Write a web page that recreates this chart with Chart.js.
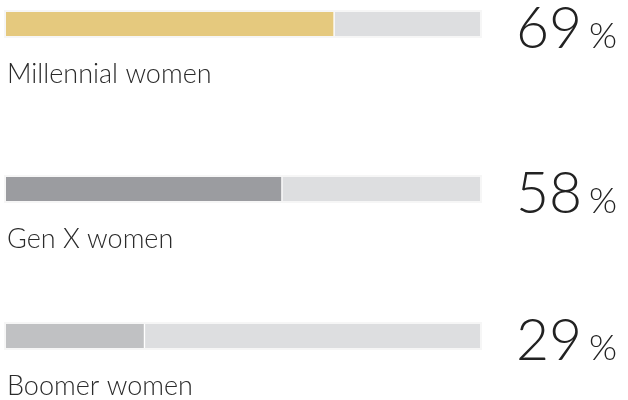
<!DOCTYPE html>
<html>
<head>
<meta charset="utf-8">
<script src="https://cdn.jsdelivr.net/npm/chart.js@4"></script>
<style>
    html, body { margin: 0; padding: 0; background: #fff; overflow: hidden; }
    #wrap { position: relative; width: 628px; height: 400px; }
    #wrap canvas { position: absolute; left: 0; }
</style>
</head>
<body>
<div id="wrap">
    <canvas id="row0" width="628" height="100" style="top:0px"></canvas>
    <canvas id="row1" width="628" height="100" style="top:165px"></canvas>
    <canvas id="row2" width="628" height="100" style="top:312px"></canvas>
</div>
<script>
const categories = ['Millennial women', 'Gen X women', 'Boomer women'];
const shares = [69, 58, 29];
const fillColors = ['#E5C97E', '#9B9CA0', '#C0C1C3'];
const restColor = '#DDDEE0';

// frame behind the bar, label under it, big number on the right
const rowText = {
    id: 'rowText',
    beforeDatasetsDraw(chart)
    {
        const a = chart.chartArea;
        const ctx = chart.ctx;
        ctx.save();
        ctx.fillStyle = '#F6F6F6';
        ctx.fillRect(a.left - 2, a.top - 2, a.right - a.left + 4, a.bottom - a.top + 4);
        ctx.restore();
    },
    afterDraw(chart)
    {
        const a = chart.chartArea;
        const ctx = chart.ctx;
        const i = chart.options.plugins.rowText.index;
        ctx.save();
        ctx.textBaseline = 'alphabetic';
        ctx.textAlign = 'left';
        ctx.fillStyle = '#2b2b2b';
        ctx.font = '300 27px Lato';
        ctx.fillText(categories[i], 7, a.bottom + 47);
        ctx.fillStyle = '#222222';
        ctx.font = '300 57px Lato';
        ctx.fillText(String(shares[i]), 516, a.top + 36);
        ctx.font = '300 36px Lato';
        ctx.fillText('%', 589, a.top + 36);
        ctx.restore();
    }
};

categories.forEach((cat, i) =>
{
    const ctx = document.getElementById('row' + i).getContext('2d');
    new Chart(ctx, {
        type: 'bar',
        data: {
            labels: [cat],
            datasets: [
                {
                    data: [shares[i]],
                    backgroundColor: fillColors[i],
                    borderWidth: 0,
                    barPercentage: 1,
                    categoryPercentage: 1
                },
                {
                    data: [100 - shares[i]],
                    backgroundColor: restColor,
                    borderColor: '#ffffff',
                    borderWidth: { left: 2, top: 0, right: 0, bottom: 0 },
                    borderSkipped: false,
                    barPercentage: 1,
                    categoryPercentage: 1
                }
            ]
        },
        options: {
            indexAxis: 'y',
            responsive: false,
            animation: false,
            layout: { padding: { left: 6, right: 148, top: 12, bottom: 64 } },
            scales: {
                x: { display: false, stacked: true, min: 0, max: 100 },
                y: { display: false, stacked: true }
            },
            plugins: {
                legend: { display: false },
                tooltip: { enabled: false },
                rowText: { index: i }
            }
        },
        plugins: [rowText]
    });
});
</script>
</body>
</html>
